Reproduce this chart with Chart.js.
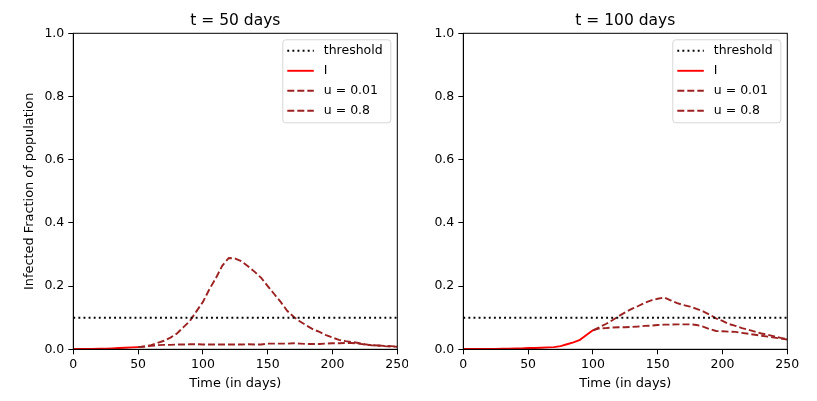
<!DOCTYPE html>
<html>
<head>
<meta charset="utf-8">
<script src="https://cdn.jsdelivr.net/npm/chart.js@4/dist/chart.umd.min.js"></script>
<style>
  body { margin: 0; background: #fff; width: 817px; height: 401px; overflow: hidden; position: relative; }
  .panel { position: absolute; top: 0; height: 401px; }
</style>
</head>
<body>
<div class="panel" style="left:0;width:408px"><canvas id="chartLeft"></canvas></div>
<div class="panel" style="left:408px;width:409px"><canvas id="chartRight"></canvas></div>
<script>
//-----------------------------------------------------
// Data
//-----------------------------------------------------
const thresholdDays = [0, 250];
const thresholdValues = [0.1, 0.1];

// t = 50 days panel
const leftIDays = [0, 5, 10, 15, 20, 25, 30, 35, 40, 45, 50];
const leftIValues = [0.001, 0.001, 0.001, 0.0015, 0.002, 0.002, 0.003, 0.004, 0.005, 0.006, 0.007];
const leftUDays = [50, 55, 60, 65, 70, 75, 80, 85, 90, 95, 100, 105, 110, 115, 120, 125, 130, 135, 140, 145,
                   150, 155, 160, 165, 170, 175, 180, 185, 190, 195, 200, 205, 210, 215, 220, 225, 230, 235, 240, 245, 250];
const leftU001 = [0.007, 0.009, 0.013, 0.02, 0.027, 0.037, 0.05, 0.07, 0.09, 0.12, 0.15, 0.19, 0.225, 0.265, 0.289, 0.287,
                  0.278, 0.262, 0.245, 0.226, 0.2, 0.175, 0.15, 0.122, 0.103, 0.088, 0.075, 0.063, 0.055, 0.045, 0.037,
                  0.03, 0.026, 0.023, 0.02, 0.016, 0.013, 0.012, 0.01, 0.009, 0.008];
const leftU08 = [0.007, 0.009, 0.011, 0.013, 0.014, 0.014, 0.015, 0.015, 0.016, 0.016, 0.015, 0.015, 0.015, 0.015, 0.015,
                 0.015, 0.015, 0.016, 0.015, 0.015, 0.018, 0.018, 0.018, 0.018, 0.019, 0.018, 0.017, 0.017, 0.017, 0.018,
                 0.019, 0.019, 0.02, 0.02, 0.018, 0.015, 0.013, 0.012, 0.011, 0.01, 0.009];

// t = 100 days panel
const rightIDays = [0, 5, 10, 15, 20, 25, 30, 35, 40, 45, 50, 55, 60, 65, 70, 75, 80, 85, 90, 95, 100];
const rightIValues = [0.001, 0.001, 0.001, 0.001, 0.001, 0.0015, 0.002, 0.002, 0.003, 0.003, 0.004, 0.004, 0.005,
                      0.006, 0.007, 0.01, 0.016, 0.022, 0.03, 0.045, 0.06];
const rightUDays = [100, 105, 110, 115, 120, 125, 130, 135, 140, 145, 150, 155, 160, 165, 170, 175, 180, 185, 190,
                    195, 200, 205, 210, 215, 220, 225, 230, 235, 240, 245, 250];
const rightU001 = [0.06, 0.07, 0.08, 0.092, 0.105, 0.117, 0.128, 0.137, 0.147, 0.155, 0.16, 0.164, 0.155, 0.146, 0.14,
                   0.135, 0.128, 0.12, 0.11, 0.098, 0.09, 0.08, 0.074, 0.067, 0.062, 0.056, 0.05, 0.046, 0.041, 0.036, 0.032];
const rightU08 = [0.06, 0.066, 0.067, 0.069, 0.07, 0.07, 0.071, 0.072, 0.074, 0.075, 0.077, 0.078, 0.078, 0.079, 0.079,
                  0.079, 0.077, 0.072, 0.064, 0.058, 0.057, 0.056, 0.055, 0.052, 0.049, 0.046, 0.043, 0.04, 0.037, 0.034, 0.031];

const xTicks = [0, 50, 100, 150, 200, 250];
const yTicks = [0.0, 0.2, 0.4, 0.6, 0.8, 1.0];

//-----------------------------------------------------
// Helpers
//-----------------------------------------------------
const FONT = "'DejaVu Sans', sans-serif";
const RED = '#ff0000';
const DARKRED = '#9c2222';

function pairs(xs, ys) {
    return xs.map((x, i) => ({ x: x, y: ys[i] }));
}

function buildDatasets(iDays, iVals, uDays, u001, u08) {
    return [
        { label: 'threshold', data: pairs(thresholdDays, thresholdValues), borderColor: '#000', borderWidth: 1.9, borderDash: [1.9, 3.2] },
        { label: 'I', data: pairs(iDays, iVals), borderColor: RED, borderWidth: 1.9 },
        { label: 'u = 0.01', data: pairs(uDays, u001), borderColor: DARKRED, borderWidth: 1.9, borderDash: [7, 3] },
        { label: 'u = 0.8', data: pairs(uDays, u08), borderColor: DARKRED, borderWidth: 1.9, borderDash: [7, 3] }
    ];
}

// frame, title and matplotlib-style legend
const decorPlugin = {
    id: 'decor',
    afterDatasetsDraw(chart, args, opts) {
        const ctx = chart.ctx;
        const a = chart.chartArea;
        ctx.save();
        ctx.strokeStyle = '#000';
        ctx.lineWidth = 1;
        ctx.setLineDash([]);
        ctx.strokeRect(a.left, a.top, a.right - a.left, a.bottom - a.top);

        ctx.fillStyle = '#000';
        ctx.font = '15.5px ' + FONT;
        ctx.textAlign = 'center';
        ctx.textBaseline = 'middle';
        ctx.fillText(opts.title, (a.left + a.right) / 2, 21);

        // legend box
        const w = 108, h = 83;
        const bx = a.right - 6.5 - w, by = a.top + 6.5;
        ctx.beginPath();
        ctx.roundRect(bx, by, w, h, 3);
        ctx.fillStyle = 'rgba(255,255,255,0.8)';
        ctx.fill();
        ctx.strokeStyle = '#d6d6d6';
        ctx.stroke();

        ctx.font = '12.5px ' + FONT;
        ctx.textAlign = 'left';
        chart.data.datasets.forEach((ds, i) => {
            const y = by + 11 + i * 20;
            ctx.beginPath();
            ctx.strokeStyle = ds.borderColor;
            ctx.lineWidth = ds.borderWidth;
            ctx.setLineDash(ds.borderDash || []);
            ctx.moveTo(bx + 4.5, y);
            ctx.lineTo(bx + 31, y);
            ctx.stroke();
            ctx.setLineDash([]);
            ctx.fillStyle = '#000';
            ctx.fillText(ds.label, bx + 41, y);
        });
        ctx.restore();
    }
};

function makeChart(id, title, datasets, yAxisWidth, rightPad, yTitle) {
    return new Chart(document.getElementById(id).getContext('2d'), {
        type: 'line',
        data: { datasets: datasets },
        options: {
            responsive: true,
            maintainAspectRatio: false,
            animation: false,
            layout: { padding: { top: 33.3, right: rightPad, bottom: 0, left: 0 } },
            elements: { point: { radius: 0 }, line: { tension: 0, fill: false } },
            plugins: {
                legend: { display: false },
                tooltip: { enabled: false },
                decor: { title: title }
            },
            scales: {
                x: {
                    type: 'linear', min: 0, max: 250,
                    afterBuildTicks: s => { s.ticks = xTicks.map(v => ({ value: v })); },
                    afterFit: s => { s.height = 51.7; s.paddingLeft = 0; s.paddingRight = 0; },
                    ticks: { color: '#000', padding: 3, maxRotation: 0, font: { family: FONT, size: 12.5 } },
                    grid: { drawOnChartArea: false, drawTicks: true, tickLength: 5, color: '#000' },
                    border: { color: '#000' },
                    title: { display: true, text: 'Time (in days)', color: '#000', padding: { top: 0, bottom: 10 }, font: { family: FONT, size: 12.9 } }
                },
                y: {
                    min: 0, max: 1,
                    afterBuildTicks: s => { s.ticks = yTicks.map(v => ({ value: v })); },
                    afterFit: s => { s.width = yAxisWidth; s.paddingTop = 0; s.paddingBottom = 0; },
                    ticks: { color: '#000', padding: 4, font: { family: FONT, size: 12.5 }, callback: v => v.toFixed(1) },
                    grid: { drawOnChartArea: false, drawTicks: true, tickLength: 5, color: '#000' },
                    border: { color: '#000' },
                    title: { display: !!yTitle, text: yTitle || '', color: '#000', padding: { top: 22, bottom: 0 }, font: { family: FONT, size: 12.9 } }
                }
            }
        },
        plugins: [decorPlugin]
    });
}

makeChart('chartLeft', 't = 50 days', buildDatasets(leftIDays, leftIValues, leftUDays, leftU001, leftU08), 73.3, 10.7, 'Infected Fraction of population');
makeChart('chartRight', 't = 100 days', buildDatasets(rightIDays, rightIValues, rightUDays, rightU001, rightU08), 55.3, 29.7, '');
</script>
</body>
</html>
